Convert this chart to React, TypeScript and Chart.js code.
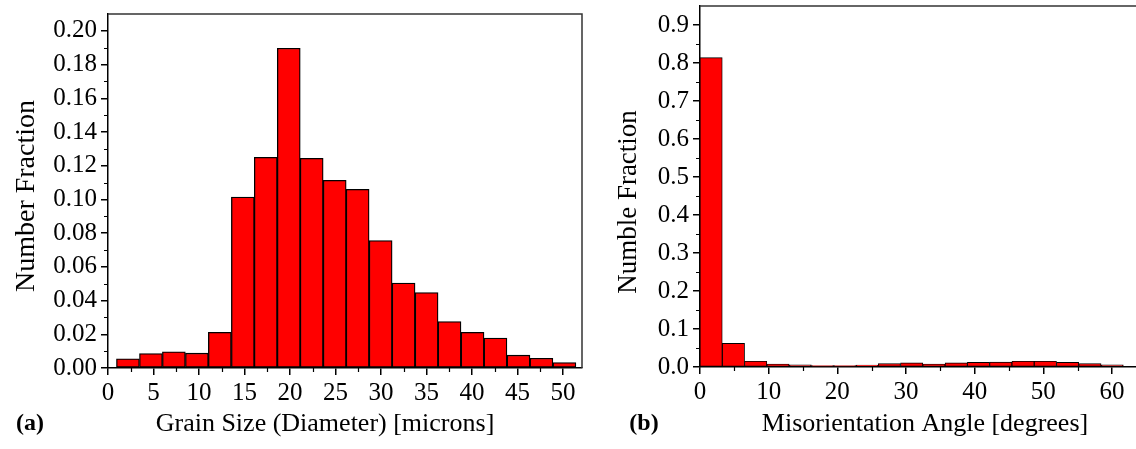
import React, { useEffect, useRef } from "react";
import { Chart, registerables } from "chart.js";

Chart.register(...registerables);

// ---- Panel (a): grain size distribution ----
const grainBinCenters = [2.19, 4.72, 7.24, 9.77, 12.29, 14.82, 17.34, 19.87, 22.39, 24.92, 27.44, 29.97, 32.49, 35.02, 37.54, 40.07, 42.59, 45.12, 47.64, 50.17];
const grainFractions = [0.0054, 0.0086, 0.0096, 0.0088, 0.0212, 0.1014, 0.125, 0.1897, 0.1244, 0.1113, 0.106, 0.0756, 0.0504, 0.0448, 0.0276, 0.0212, 0.0178, 0.0076, 0.0058, 0.0032];
const grainXTicks = [0, 5, 10, 15, 20, 25, 30, 35, 40, 45, 50];
const grainXMinor = [2.5, 7.5, 12.5, 17.5, 22.5, 27.5, 32.5, 37.5, 42.5, 47.5];
const grainYTicks = [0, 0.02, 0.04, 0.06, 0.08, 0.1, 0.12, 0.14, 0.16, 0.18, 0.2];
const grainYMinor = [0.01, 0.03, 0.05, 0.07, 0.09, 0.11, 0.13, 0.15, 0.17, 0.19];

// ---- Panel (b): misorientation angle distribution ----
const angleBinCenters = [1.62, 4.87, 8.11, 11.36, 14.6, 17.85, 21.09, 24.34, 27.58, 30.83, 34.07, 37.32, 40.56, 43.81, 47.05, 50.3, 53.54, 56.79, 60.03];
const angleFractions = [0.814, 0.062, 0.015, 0.008, 0.006, 0.004, 0.004, 0.005, 0.009, 0.011, 0.008, 0.011, 0.012, 0.013, 0.015, 0.015, 0.012, 0.009, 0.006];
const angleXTicks = [0, 10, 20, 30, 40, 50, 60];
const angleXMinor = [5, 15, 25, 35, 45, 55];
const angleYTicks = [0, 0.1, 0.2, 0.3, 0.4, 0.5, 0.6, 0.7, 0.8, 0.9];
const angleYMinor = [0.05, 0.15, 0.25, 0.35, 0.45, 0.55, 0.65, 0.75, 0.85];

const SERIF = "'Liberation Serif', 'Times New Roman', serif";

const decorPlugin = {
  id: "decor",
  afterDraw(chart: any, _args: any, opts: any) {
    const { ctx, chartArea: a, scales } = chart;
    ctx.save();
    // frame (top, optionally right)
    ctx.strokeStyle = "#333";
    ctx.lineWidth = 1.5;
    ctx.beginPath();
    ctx.moveTo(a.left, a.top);
    ctx.lineTo(a.right, a.top);
    if (opts.rightBorder) ctx.lineTo(a.right, a.bottom);
    ctx.stroke();
    // minor ticks
    ctx.strokeStyle = "#000";
    ctx.lineWidth = 1.2;
    ctx.beginPath();
    for (const v of opts.xMinor || []) {
      const px = Math.round(scales.x.getPixelForValue(v)) + 0.5;
      ctx.moveTo(px, a.bottom);
      ctx.lineTo(px, a.bottom + 4);
    }
    for (const v of opts.yMinor || []) {
      const py = Math.round(scales.y.getPixelForValue(v)) + 0.5;
      ctx.moveTo(a.left, py);
      ctx.lineTo(a.left - 4, py);
    }
    ctx.stroke();
    // texts
    ctx.fillStyle = "#000";
    ctx.textAlign = "center";
    ctx.textBaseline = "middle";
    for (const t of opts.texts || []) {
      ctx.save();
      ctx.font = t.font;
      ctx.translate(t.x, t.y);
      if (t.rotate) ctx.rotate(t.rotate);
      ctx.fillText(t.text, 0, 0);
      ctx.restore();
    }
    ctx.restore();
  },
};

function makeConfig(p: {
  centers: number[];
  values: number[];
  xTicks: number[];
  xMinor: number[];
  yTicks: number[];
  yMinor: number[];
  xMax: number;
  yMax: number;
  yDigits: number;
  yAxisWidth: number;
  xAxisHeight: number;
  padding: any;
  rightBorder: boolean;
  borderWidth: number;
  texts: any[];
}) {
  return {
    type: "bar",
    data: {
      datasets: [
        {
          data: p.centers.map((c, i) => ({ x: c, y: p.values[i] })),
          backgroundColor: "#ff0000",
          borderColor: "#000",
          borderWidth: p.borderWidth,
          borderSkipped: false,
          categoryPercentage: 1,
          barPercentage: 1,
        },
      ],
    },
    options: {
      responsive: false,
      animation: false,
      devicePixelRatio: 1,
      layout: { padding: p.padding },
      plugins: {
        legend: { display: false },
        tooltip: { enabled: false },
        decor: { rightBorder: p.rightBorder, xMinor: p.xMinor, yMinor: p.yMinor, texts: p.texts },
      },
      scales: {
        x: {
          type: "linear",
          offset: false,
          min: 0,
          max: p.xMax,
          grid: { offset: false, drawOnChartArea: false, tickLength: 7, lineWidth: 1.5, color: "#000" },
          border: { display: true, color: "#000", width: 1.5 },
          ticks: {
            color: "#000",
            font: { family: SERIF, size: 25 },
            padding: 3,
            maxRotation: 0,
            autoSkip: false,
            callback: (v: any) => String(v),
          },
          afterBuildTicks: (scale: any) => {
            scale.ticks = p.xTicks.map((v) => ({ value: v }));
          },
          afterFit: (scale: any) => {
            scale.height = p.xAxisHeight;
            scale.paddingLeft = 0;
            scale.paddingRight = 0;
          },
        },
        y: {
          type: "linear",
          min: 0,
          max: p.yMax,
          grid: { drawOnChartArea: false, tickLength: 7, lineWidth: 1.5, color: "#000" },
          border: { display: true, color: "#000", width: 1.5 },
          ticks: {
            color: "#000",
            font: { family: SERIF, size: 25 },
            padding: 4,
            autoSkip: false,
            callback: (v: any) => Number(v).toFixed(p.yDigits),
          },
          afterBuildTicks: (scale: any) => {
            scale.ticks = p.yTicks.map((v) => ({ value: v }));
          },
          afterFit: (scale: any) => {
            scale.width = p.yAxisWidth;
            scale.paddingTop = 0;
            scale.paddingBottom = 0;
          },
        },
      },
    },
    plugins: [decorPlugin],
  } as any;
}

export default function App() {
  const leftRef = useRef<HTMLCanvasElement>(null);
  const rightRef = useRef<HTMLCanvasElement>(null);

  useEffect(() => {
    const titleFont = `26px ${SERIF}`;
    const tagFont = `bold 24px ${SERIF}`;
    const left = new Chart(
      leftRef.current as HTMLCanvasElement,
      makeConfig({
        centers: grainBinCenters,
        values: grainFractions,
        xTicks: grainXTicks,
        xMinor: grainXMinor,
        yTicks: grainYTicks,
        yMinor: grainYMinor,
        xMax: 52.1,
        yMax: 0.21,
        yDigits: 2,
        yAxisWidth: 108,
        xAxisHeight: 81,
        padding: { left: 0, top: 14, right: 18, bottom: 0 },
        rightBorder: true,
        borderWidth: 1.3,
        texts: [
          { text: "(a)", x: 30, y: 424, font: tagFont },
          { text: "Grain Size (Diameter) [microns]", x: 325, y: 424, font: titleFont },
          { text: "Number Fraction", x: 27, y: 196, font: `28px ${SERIF}`, rotate: -Math.PI / 2 },
        ],
      })
    );
    const right = new Chart(
      rightRef.current as HTMLCanvasElement,
      makeConfig({
        centers: angleBinCenters,
        values: angleFractions,
        xTicks: angleXTicks,
        xMinor: angleXMinor,
        yTicks: angleYTicks,
        yMinor: angleYMinor,
        xMax: 63.5,
        yMax: 0.95,
        yDigits: 1,
        yAxisWidth: 100,
        xAxisHeight: 82,
        padding: { left: 0, top: 6, right: 0, bottom: 0 },
        rightBorder: false,
        borderWidth: 0.9,
        texts: [
          { text: "(b)", x: 44, y: 424, font: tagFont },
          { text: "Misorientation Angle [degrees]", x: 325, y: 424, font: titleFont },
          { text: "Numble Fraction", x: 29, y: 202, font: `27px ${SERIF}`, rotate: -Math.PI / 2 },
        ],
      })
    );
    return () => {
      left.destroy();
      right.destroy();
    };
  }, []);

  return (
    <div
      style={{
        position: "absolute",
        left: 0,
        top: 0,
        width: 1136,
        height: 449,
        overflow: "hidden",
        background: "#fff",
      }}
    >
      <canvas ref={leftRef} width={600} height={449} style={{ position: "absolute", left: 0, top: 0 }} />
      <canvas ref={rightRef} width={536} height={449} style={{ position: "absolute", left: 600, top: 0 }} />
    </div>
  );
}
